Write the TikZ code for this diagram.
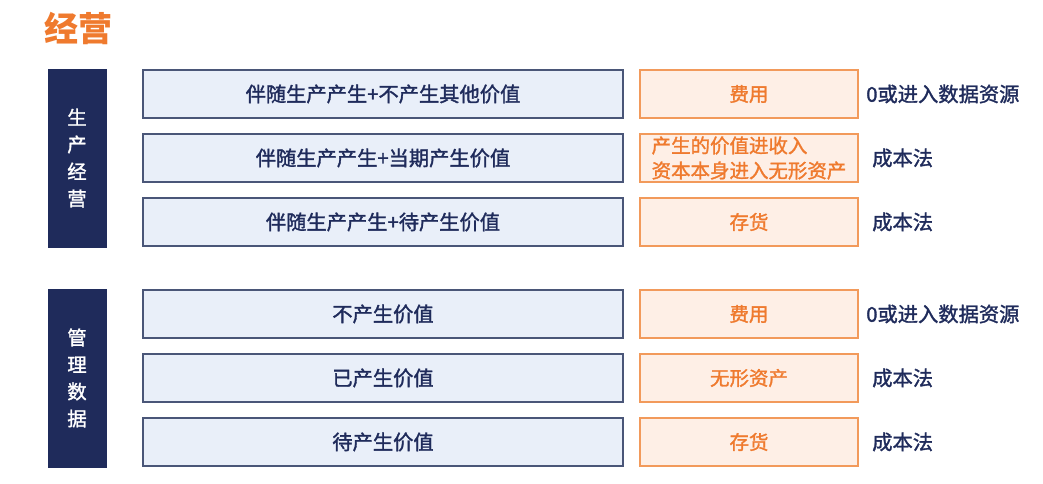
\documentclass[tikz,border=0pt]{standalone}
\usepackage{fontspec}
\newfontfamily\cjk{Noto Sans CJK SC}
\newfontfamily\cjkmid{Noto Sans CJK SC}[FakeBold=1.5]
\definecolor{navy}{HTML}{1F2B5B}
\definecolor{caseline}{HTML}{4A5678}
\definecolor{casefill}{HTML}{E9EFF9}
\definecolor{accent}{HTML}{EF7A2E}
\definecolor{resline}{HTML}{F29A5B}
\definecolor{resfill}{HTML}{FEEFE6}
\usetikzlibrary{positioning}

\begin{document}
\begin{tikzpicture}
   [
      x=0.75pt, y=-0.75pt,
      font=\cjkmid\fontsize{15.2}{17}\selectfont,
      group/.style={rectangle, draw=navy, fill=navy, text=white, inner sep=0pt,
      minimum width=43.5pt, minimum height=133.5pt, align=center,
      font=\cjkmid\fontsize{14.5}{20.25}\selectfont},
      case/.style={rectangle, draw=caseline, fill=casefill, text=navy,
      line width=1.1pt, inner sep=0pt, minimum width=360pt, minimum height=36pt},
      result/.style={rectangle, draw=resline, fill=resfill, text=accent,
      line width=1.1pt, inner sep=0pt, minimum width=163.5pt, minimum
      height=36pt, align=left, font=\cjkmid\fontsize{14.6}{18.75}\selectfont},
      method/.style={text=navy, inner sep=0pt, anchor=west}
   ]
   \useasboundingbox (0,0) rectangle (1043,484);

   \node[text=accent, font=\cjk\bfseries\fontsize{25.5}{28}\selectfont,
      anchor=west, inner sep=0pt] (title) at (44,28) {经营};

   \node[group] (production) at (77,158) {生\\产\\经\\营};
   \node[group] (management) at (77,378) {管\\理\\数\\据};

   \foreach \y/\what/\res/\how/\hx [count=\i] in {
      94/{伴随生产产生+不产生其他价值}/费用/{0或进入数据资源}/866,
      158/{伴随生产产生+当期产生价值}/{产生的价值进收入\\资本本身进入无形资产}/成本法/872,
      222/{伴随生产产生+待产生价值}/存货/成本法/872,
      314/不产生价值/费用/{0或进入数据资源}/866,
      378/已产生价值/无形资产/成本法/872,
      442/待产生价值/存货/成本法/872} {
      \node[case] (case\i) at (383,\y) {\what};
      \node[result] (result\i) at (749,\y) {\res};
      \node[method] (method\i) at (\hx,\y) {\how};
   }
\end{tikzpicture}
\end{document}
